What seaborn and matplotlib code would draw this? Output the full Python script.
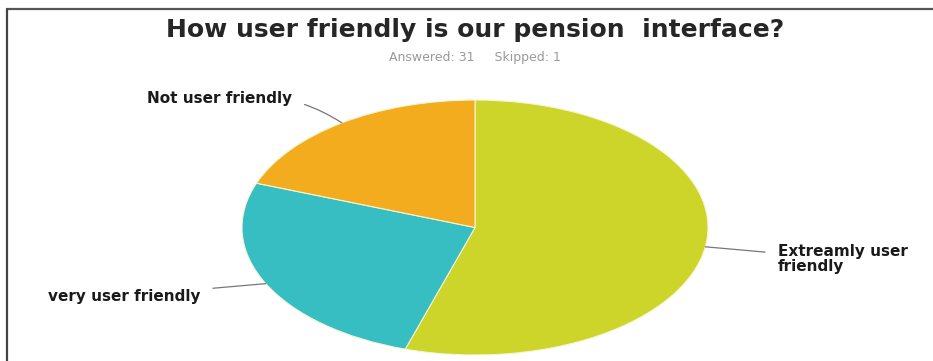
import numpy as np
import matplotlib
matplotlib.use("Agg")
import matplotlib.pyplot as plt
import seaborn as sns

# Survey responses
categories = ["Extreamly user\nfriendly", "very user friendly", "Not user friendly"]
counts = [17, 8, 6]
colors = ["#CDD42A", "#36BEC3", "#F4AC1F"]
title = "How user friendly is our pension  interface?"
subtitle = "Answered: 31     Skipped: 1"

sns.set_theme(style="white")
plt.rcParams["font.family"] = ["DejaVu Sans"]

W, H = 933, 361
fig = plt.figure(figsize=(W / 100, H / 100), dpi=100)
fig.patch.set_facecolor("white")

# Pixel helpers: pie centre and radii (the pie is drawn as a flattened ellipse)
cx, cy, rx, ry = 475, 227.5, 233, 127.5
ax = fig.add_axes([0, 0, 1, 1])
wedges, _ = ax.pie(counts, colors=colors, startangle=90, counterclock=False,
                   radius=1, wedgeprops=dict(edgecolor="#F4F6D0", linewidth=0.8))
ax.set_aspect("auto")
ax.set_xlim((0 - cx) / rx, (W - cx) / rx)
ax.set_ylim((cy - H) / ry, (cy - 0) / ry)
ax.axis("off")


def px(x, y):
    return ((x - cx) / rx, (cy - y) / ry)


# Frame lines at top and left
fig.add_artist(plt.Line2D([7 / W, 1], [1 - 8.5 / H, 1 - 8.5 / H], color="#555555", lw=1.6))
fig.add_artist(plt.Line2D([7.5 / W, 7.5 / W], [0, 1 - 8.5 / H], color="#444444", lw=1.6))

fig.text(475 / W, 1 - 30 / H, title, ha="center", va="center",
         fontsize=18, fontweight="bold", color="#262626")
fig.text(475 / W, 1 - 58 / H, subtitle, ha="center", va="center",
         fontsize=9, color="#9a9a9a")

# Labels with leader lines from each wedge's mid-angle on the rim
label_pos = [(778, 259, "left", 0.0), (200, 296, "right", 0.0), (292, 99, "right", -0.2)]
for w, lab, (lx, ly, ha, rad) in zip(wedges, categories, label_pos):
    mid = np.deg2rad((w.theta1 + w.theta2) / 2)
    tip = (np.cos(mid), np.sin(mid))
    tx, ty = px(lx, ly)
    ax.annotate(lab, xy=tip, xytext=(tx, ty), ha=ha, va="center",
                fontsize=11, fontweight="bold", color="#1a1a1a", linespacing=0.95,
                arrowprops=dict(arrowstyle="-", color="#777777", lw=0.9,
                                shrinkA=7, shrinkB=0,
                                connectionstyle=f"arc3,rad={rad}"))

fig.savefig("out.png", dpi=100, facecolor="white")
